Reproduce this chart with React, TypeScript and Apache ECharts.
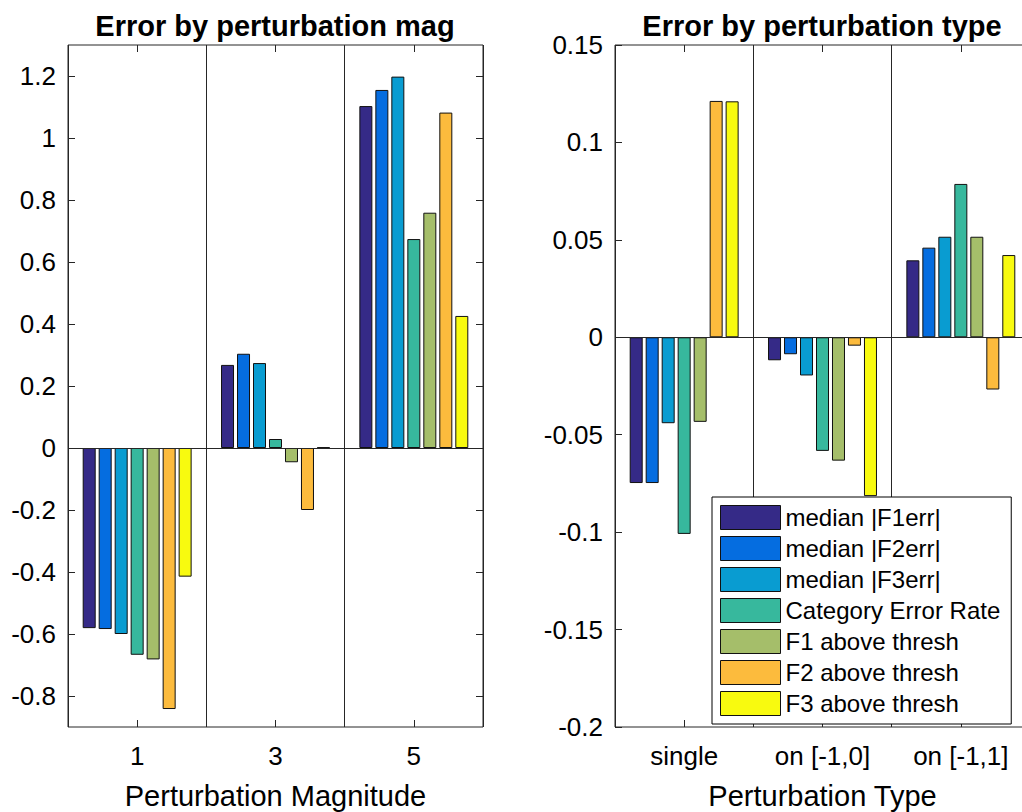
import React, { useEffect, useRef } from "react";
import * as echarts from "echarts";

const magCategories = ["1", "3", "5"];
const typeCategories = ["single", "on [-1,0]", "on [-1,1]"];
const seriesNames = [
  "median |F1err|",
  "median |F2err|",
  "median |F3err|",
  "Category Error Rate",
  "F1 above thresh",
  "F2 above thresh",
  "F3 above thresh",
];
const seriesColors = ["#352a87", "#056de0", "#099cd1", "#37b89d", "#a5be6a", "#fcbb3d", "#f8fa0f"];

// Error by perturbation magnitude
const magF1err = [-0.581, 0.268, 1.103];
const magF2err = [-0.584, 0.304, 1.155];
const magF3err = [-0.6, 0.274, 1.198];
const magCatErr = [-0.667, 0.029, 0.674];
const magF1thr = [-0.682, -0.046, 0.759];
const magF2thr = [-0.842, -0.2, 1.082];
const magF3thr = [-0.415, 0.002, 0.426];

// Error by perturbation type
const typeF1err = [-0.0748, -0.0118, 0.0395];
const typeF2err = [-0.0748, -0.0087, 0.046];
const typeF3err = [-0.0441, -0.0196, 0.0516];
const typeCatErr = [-0.1009, -0.0583, 0.0787];
const typeF1thr = [-0.0434, -0.0633, 0.0516];
const typeF2thr = [0.1213, -0.0043, -0.0268];
const typeF3thr = [0.1211, -0.0815, 0.0422];

const magTicks = [-0.8, -0.6, -0.4, -0.2, 0, 0.2, 0.4, 0.6, 0.8, 1, 1.2];
const typeTicks = [-0.2, -0.15, -0.1, -0.05, 0, 0.05, 0.1, 0.15];

const magData = [magF1err, magF2err, magF3err, magCatErr, magF1thr, magF2thr, magF3thr];
const typeData = [typeF1err, typeF2err, typeF3err, typeCatErr, typeF1thr, typeF2thr, typeF3thr];

const FONT = "'Liberation Sans', Arial, Helvetica, sans-serif";
const AX = "#262626";
const TICK_FS = 26;

const fmt = (v: number) => String(Math.round(v * 100) / 100);

export default function App() {
  const ref = useRef<HTMLDivElement>(null);
  useEffect(() => {
    if (!ref.current) return;
    const chart = echarts.init(ref.current, undefined, { renderer: "svg" });

    const grids = [
      { left: 68, top: 45, width: 415, height: 682 },
      { left: 615, top: 45, width: 415, height: 682 },
    ];

    const xAxisBase = (gridIndex: number, data: string[]) => ({
      type: "category",
      gridIndex,
      data,
      position: "bottom",
      axisLine: { show: false, onZero: false },
      axisTick: { show: true, inside: true, alignWithLabel: true, length: 7, lineStyle: { color: AX } },
      axisLabel: { fontSize: TICK_FS, color: "#000", fontFamily: FONT, margin: 16 },
      splitLine: { show: true, lineStyle: { color: AX, width: 1 } },
      name: gridIndex === 0 ? "Perturbation Magnitude" : "Perturbation Type",
      nameLocation: "middle",
      nameGap: 54,
      nameTextStyle: { fontSize: 29, color: "#000", fontFamily: FONT },
    });
    const xAxisTop = (gridIndex: number, data: string[]) => ({
      type: "category",
      gridIndex,
      data,
      position: "top",
      axisLine: { show: false, onZero: false },
      axisTick: { show: true, inside: true, alignWithLabel: true, length: 7, lineStyle: { color: AX } },
      axisLabel: { show: false },
      splitLine: { show: false },
    });
    const yAxisBase = (gridIndex: number, min: number, max: number, ticks: number[]) => ({
      type: "value",
      gridIndex,
      min,
      max,
      position: "left",
      axisLine: { show: false },
      axisTick: { show: true, inside: true, length: 7, customValues: ticks, lineStyle: { color: AX } },
      axisLabel: { fontSize: TICK_FS, color: "#000", fontFamily: FONT, margin: 12, customValues: ticks, formatter: fmt },
      splitLine: { show: false },
    });
    const yAxisRight = (gridIndex: number, min: number, max: number, ticks: number[]) => ({
      type: "value",
      gridIndex,
      min,
      max,
      position: "right",
      axisLine: { show: false },
      axisTick: { show: true, inside: true, length: 7, customValues: ticks, lineStyle: { color: AX } },
      axisLabel: { show: false, customValues: ticks },
      splitLine: { show: false },
    });

    const makeSeries = (gridIdx: number, datasets: number[][]) =>
      datasets.map((d, i) => ({
        type: "bar",
        name: seriesNames[i],
        xAxisIndex: gridIdx === 0 ? 0 : 2,
        yAxisIndex: gridIdx === 0 ? 0 : 2,
        data: d,
        barWidth: 13,
        barGap: "23%",
        itemStyle: { color: seriesColors[i], borderColor: "#111", borderWidth: 1 },
        ...(i === 0
          ? {
              markLine: {
                silent: true,
                symbol: ["none", "none"],
                label: { show: false },
                lineStyle: { color: AX, type: "solid", width: 1 },
                data: [{ yAxis: 0 }],
              },
            }
          : {}),
      }));

    const option = {
      animation: false,
      backgroundColor: "#fff",
      title: [
        {
          text: "Error by perturbation mag",
          left: 270,
          top: 6,
          textAlign: "center",
          textStyle: { fontSize: 29, fontWeight: "bold", color: "#000", fontFamily: FONT },
        },
        {
          text: "Error by perturbation type",
          left: 817,
          top: 6,
          textAlign: "center",
          textStyle: { fontSize: 29, fontWeight: "bold", color: "#000", fontFamily: FONT },
        },
      ],
      grid: grids.map((g) => ({
        ...g,
        show: true,
        borderColor: AX,
        borderWidth: 1,
        backgroundColor: "#fff",
        containLabel: false,
        outerBoundsMode: "none",
      })),
      xAxis: [
        xAxisBase(0, magCategories),
        xAxisTop(0, magCategories),
        xAxisBase(1, typeCategories),
        xAxisTop(1, typeCategories),
      ],
      yAxis: [
        yAxisBase(0, -0.9, 1.3, magTicks),
        yAxisRight(0, -0.9, 1.3, magTicks),
        yAxisBase(1, -0.2, 0.15, typeTicks),
        yAxisRight(1, -0.2, 0.15, typeTicks),
      ],
      legend: {
        orient: "vertical",
        left: 712,
        top: 497,
        data: seriesNames,
        icon: "rect",
        itemWidth: 60,
        itemHeight: 24,
        itemGap: 6,
        padding: [8, 11, 8, 8],
        backgroundColor: "#fff",
        borderColor: "#000",
        borderWidth: 1,
        itemStyle: { borderColor: "#111", borderWidth: 1 },
        textStyle: { fontSize: 24, color: "#000", fontFamily: FONT },
        selectedMode: false,
        z: 10,
      },
      series: [...makeSeries(0, magData), ...makeSeries(1, typeData)],
    };

    chart.setOption(option as any);
    return () => chart.dispose();
  }, []);

  return (
    <div
      ref={ref}
      style={{ position: "fixed", left: 0, top: 0, width: 1022, height: 812, background: "#fff" }}
    />
  );
}
